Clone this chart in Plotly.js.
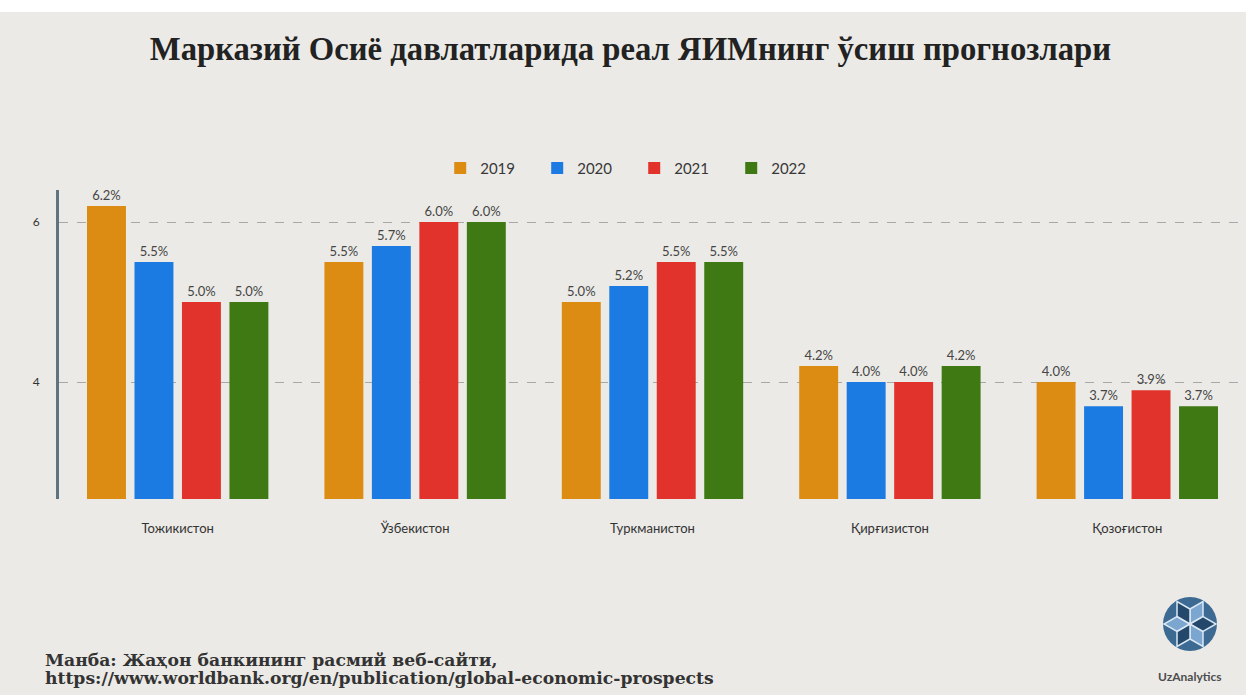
<!DOCTYPE html>
<html>
<head>
<meta charset="utf-8">
<script src="https://cdn.plot.ly/plotly-3.0.1.min.js"></script>
<style>
html,body{margin:0;padding:0;background:#ebeae6;}
#chart{width:1246px;height:695px;}
</style>
</head>
<body>
<div id="chart"></div>
<script>
const countries = ["Тожикистон", "Ўзбекистон", "Туркманистон", "Қирғизистон", "Қозоғистон"];
const years = ["2019", "2020", "2021", "2022"];
const values2019 = [6.2, 5.5, 5.0, 4.2, 4.0];
const values2020 = [5.5, 5.7, 5.2, 4.0, 3.7];
const values2021 = [5.0, 6.0, 5.5, 4.0, 3.9];
const values2022 = [5.0, 6.0, 5.5, 4.2, 3.7];
const yTicks = [4, 6];

const series = [values2019, values2020, values2021, values2022];
const colors = ["#dc8c12", "#1b7be2", "#e2322c", "#3e7913"];

const traces = series.map((vals, i) => ({
  type: "bar",
  name: years[i],
  x: countries,
  y: vals,
  marker: {color: colors[i]},
  text: vals.map(v => v.toFixed(1) + "%"),
  textposition: "outside",
  cliponaxis: false,
  textfont: {family: "Lato, 'Open Sans', sans-serif", size: 13, color: "#454545"},
  hoverinfo: "x+y"
}));

// simple logo drawn as shapes (paper coords)
function px(x){ return (x - 59) / (1246 - 59); }
function py(y){ return (499 - y) / (499 - 190); }
const cx = 1190, cy = 624, r = 27;
const logoShapes = [
  {type:"circle", xref:"paper", yref:"paper", x0:px(cx-r), x1:px(cx+r), y0:py(cy+r), y1:py(cy-r), fillcolor:"#3d6a93", line:{width:0}, layer:"above"}
];
const hr = 15;
const hexPts = [];
for (let k=0;k<6;k++){ const a = Math.PI/6 + k*Math.PI/3; hexPts.push([cx + hr*Math.cos(a), cy + hr*Math.sin(a)]); }
[0,2,4].forEach(k => {
  const p1 = hexPts[k], p2 = hexPts[(k+1)%6];
  logoShapes.push({type:"path", xref:"paper", yref:"paper",
    path:`M${px(cx)},${py(cy)} L${px(p1[0])},${py(p1[1])} L${px(p1[0]+p2[0]-cx)},${py(p1[1]+p2[1]-cy)} L${px(p2[0])},${py(p2[1])} Z`,
    fillcolor:"#7aa6cf", line:{color:"#dbe8f4", width:1.5}, layer:"above"});
});
[1,3,5].forEach(k => {
  const p1 = hexPts[k], p2 = hexPts[(k+1)%6];
  logoShapes.push({type:"path", xref:"paper", yref:"paper",
    path:`M${px(cx)},${py(cy)} L${px(p1[0])},${py(p1[1])} L${px(p1[0]+p2[0]-cx)},${py(p1[1]+p2[1]-cy)} L${px(p2[0])},${py(p2[1])} Z`,
    fillcolor:"#24486b", line:{color:"#dbe8f4", width:1.5}, layer:"above"});
});

const layout = {
  width: 1246, height: 695,
  paper_bgcolor: "#ebeae6",
  plot_bgcolor: "rgba(0,0,0,0)",
  margin: {l: 59, r: 0, t: 190, b: 196},
  barmode: "group",
  bargap: 0.2,
  bargroupgap: 0.18,
  showlegend: true,
  legend: {orientation: "h", x: 0.509, xanchor: "center", xref: "container", y: 0.758, yref: "container", yanchor: "middle",
    font: {family: "Lato, 'Open Sans', sans-serif", size: 15, color: "#383838"}, bgcolor: "rgba(0,0,0,0)",
    entrywidth: 52, entrywidthmode: "pixels", traceorder: "normal"},
  title: {text: "Марказий Осиё давлатларида реал ЯИМнинг ўсиш прогнозлари",
    font: {family: "'Liberation Serif', 'DejaVu Serif', serif", size: 32.7, color: "#222", weight: "bold"},
    x: 0.506, xref: "container", xanchor: "center", y: 0.93, yref: "container", yanchor: "middle"},
  xaxis: {
    tickfont: {family: "Lato, 'Open Sans', sans-serif", size: 13, color: "#333"},
    showline: false, showgrid: false, ticks: "", ticklabelstandoff: 20, fixedrange: true
  },
  yaxis: {
    range: [2.54, 6.4],
    tickvals: yTicks,
    ticktext: yTicks.map(String),
    tickfont: {family: "Lato, 'Open Sans', sans-serif", size: 12, color: "#333"},
    showgrid: true, gridcolor: "#a8a8a8", griddash: "dash", gridwidth: 1,
    zeroline: false,
    showline: true, linecolor: "#5f7480", linewidth: 3,
    ticks: "", ticklabelstandoff: 14, fixedrange: true
  },
  shapes: [
    {type:"rect", xref:"paper", yref:"paper", x0:-0.06, x1:1.01, y0:py(12), y1:py(-5), fillcolor:"#ffffff", line:{width:0}, layer:"below"}
  ].concat(logoShapes),
  annotations: [
    {text: "Манба: Жаҳон банкининг расмий веб-сайти,",
     xref: "paper", yref: "paper", x: px(43), y: py(660), xanchor: "left", yanchor: "middle", align: "left", showarrow: false,
     font: {family: "'DejaVu Serif', serif", size: 17.2, color: "#333", weight: "bold"}},
    {text: "https://www.worldbank.org/en/publication/global-economic-prospects",
     xref: "paper", yref: "paper", x: px(43), y: py(678), xanchor: "left", yanchor: "middle", align: "left", showarrow: false,
     font: {family: "'DejaVu Serif', serif", size: 17.2, color: "#333", weight: "bold"}},
    {text: "UzAnalytics", xref: "paper", yref: "paper", x: px(1190), y: py(676), xanchor: "center", yanchor: "middle", showarrow: false,
     font: {family: "Lato, 'Open Sans', sans-serif", size: 12, color: "#4d4d4d", weight: "bold"}}
  ]
};

Plotly.newPlot("chart", traces, layout, {displayModeBar: false, staticPlot: true});
</script>
</body>
</html>
